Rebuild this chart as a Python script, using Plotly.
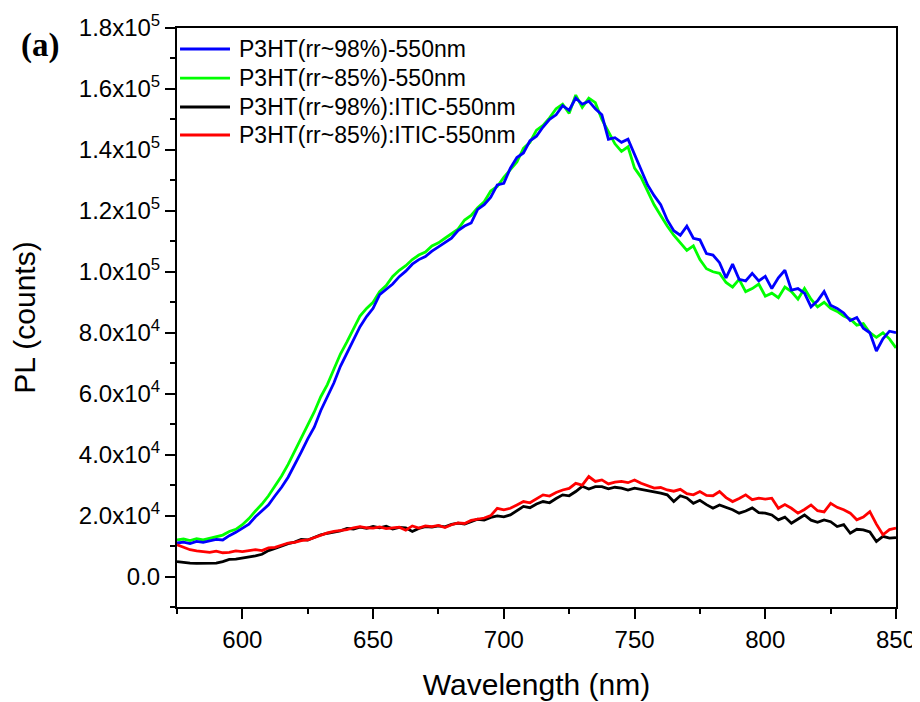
import numpy as np
import plotly.graph_objects as go

# Wavelength grid (nm)
wavelength = np.arange(575, 850.1, 2.5)

# PL counts in thousands
p3ht_98 = [11.0, 11.3, 10.8, 11.5, 11.2, 11.6, 12.2, 12.0, 13.4, 14.5,
           15.8, 17.2, 19.6, 21.5, 23.5, 26.5, 29.3, 32.6, 36.5, 40.8,
           45.2, 49.0, 54.5, 58.8, 63.5, 69.0, 73.2, 77.5, 82.0, 85.3,
           88.0, 92.5, 94.2, 96.0, 98.4, 100.2, 102.5, 104.0, 105.0, 106.8,
           108.2, 109.5, 111.0, 113.5, 115.0, 116.0, 120.5, 122.0, 124.5, 128.5,
           129.0, 134.0, 137.5, 139.0, 143.0, 144.5, 147.5, 150.0, 151.5, 154.5,
           153.0, 157.0, 155.0, 156.0, 153.5, 151.5, 143.5, 144.0, 142.5, 143.5,
           138.5, 134.0, 128.5, 125.0, 122.0, 117.0, 113.5, 112.0, 115.0, 111.0,
           110.5, 106.0, 105.5, 103.0, 98.0, 102.5, 97.5, 97.0, 99.5, 97.0,
           98.5, 94.5, 98.0, 100.5, 94.0, 94.5, 93.0, 88.5, 90.5, 93.5,
           89.0, 88.0, 86.5, 84.0, 85.0, 81.5, 80.0, 74.0, 78.0, 80.5,
           80.0]

p3ht_85 = [12.0, 12.3, 11.8, 12.4, 12.0, 12.5, 13.2, 13.6, 14.8, 15.5,
           17.0, 19.0, 21.5, 23.8, 26.5, 29.8, 33.0, 36.8, 41.0, 45.5,
           49.5, 54.0, 59.0, 63.0, 68.0, 73.0, 77.0, 81.0, 85.5, 88.0,
           90.0, 93.5, 95.5, 98.5, 100.5, 102.0, 104.0, 105.5, 106.5, 108.5,
           109.5, 111.0, 112.5, 114.0, 117.0, 118.5, 121.0, 123.0, 126.5, 128.0,
           131.0, 133.5, 136.0, 140.5, 142.5, 146.5, 148.0, 150.5, 153.5, 155.0,
           152.0, 158.0, 154.0, 157.0, 155.5, 150.0, 146.0, 142.0, 139.5, 141.0,
           134.0, 131.0, 126.5, 122.0, 118.5, 115.0, 112.0, 109.5, 107.0, 108.5,
           104.0, 101.0, 100.0, 99.5, 96.5, 95.0, 97.5, 93.5, 94.5, 96.0,
           92.0, 93.0, 91.5, 95.0, 93.5, 91.0, 94.5, 91.0, 88.5, 90.0,
           88.0, 87.0, 85.5, 84.5, 82.5, 83.0, 80.0, 78.5, 80.0, 78.0,
           75.0]

p3ht_98_itic = [4.9, 4.6, 4.4, 4.3, 4.4, 4.5, 4.4, 4.9, 5.6, 5.7,
                6.0, 6.5, 6.8, 7.3, 8.5, 9.2, 10.0, 10.8, 11.3, 12.2,
                12.0, 12.9, 13.7, 14.2, 14.6, 15.0, 15.8, 15.6, 16.2, 15.8,
                16.4, 16.0, 16.5, 15.6, 16.1, 16.0, 14.8, 15.8, 16.4, 16.2,
                16.6, 16.3, 17.1, 17.5, 17.2, 18.0, 18.8, 18.5, 19.4, 19.9,
                19.6, 20.2, 21.5, 23.0, 22.6, 23.8, 24.6, 24.2, 25.6, 26.8,
                26.5, 27.9, 29.6, 28.7, 29.5, 29.5, 28.8, 29.3, 29.0, 28.4,
                29.0, 28.6, 28.4, 27.8, 27.4, 26.8, 24.6, 26.5, 25.8, 24.0,
                25.0, 23.6, 22.4, 23.5, 22.8, 21.9, 20.8, 21.5, 22.5, 21.0,
                20.8, 20.2, 18.6, 19.5, 17.5, 18.8, 20.2, 18.5, 17.8, 18.6,
                18.0, 16.4, 17.0, 14.2, 15.5, 15.3, 14.6, 11.5, 13.2, 12.6,
                12.8]

p3ht_85_itic = [10.4, 9.6, 8.8, 8.4, 8.1, 7.9, 8.3, 7.8, 7.9, 8.4,
                8.2, 8.6, 8.8, 8.5, 9.4, 9.6, 10.2, 11.0, 11.2, 11.8,
                12.0, 12.8, 13.7, 14.3, 14.8, 15.0, 15.4, 16.0, 16.4, 16.0,
                15.9, 16.3, 15.7, 16.0, 16.2, 15.2, 16.6, 15.9, 16.6, 16.4,
                16.8, 16.1, 17.0, 17.6, 17.4, 18.4, 18.8, 19.2, 20.0, 22.4,
                21.9, 22.4, 23.5, 24.6, 24.2, 25.6, 26.8, 26.4, 27.6, 28.4,
                28.9, 30.6, 30.0, 32.8, 31.2, 31.7, 30.4, 31.0, 31.2, 30.8,
                31.7, 30.6, 29.8, 29.0, 29.2, 28.4, 28.0, 28.6, 27.2, 26.8,
                27.9, 26.6, 26.5, 27.9, 25.9, 24.6, 25.6, 26.8, 25.2, 25.7,
                25.4, 25.7, 22.4, 23.6, 22.4, 20.8, 22.0, 23.5, 21.6, 21.2,
                24.0, 22.7, 21.9, 20.8, 18.6, 19.5, 21.3, 17.2, 13.7, 15.4,
                15.9]

series_names = ["P3HT(rr~98%)-550nm", "P3HT(rr~85%)-550nm",
                "P3HT(rr~98%):ITIC-550nm", "P3HT(rr~85%):ITIC-550nm"]
series_colors = ["#0000FF", "#00FF00", "#000000", "#FF0000"]

x_tickvals = [600, 650, 700, 750, 800, 850]
y_tickvals = [0, 2e4, 4e4, 6e4, 8e4, 1e5, 1.2e5, 1.4e5, 1.6e5, 1.8e5]
y_ticktext = ["0.0", "2.0x10<sup>4</sup>", "4.0x10<sup>4</sup>", "6.0x10<sup>4</sup>",
              "8.0x10<sup>4</sup>", "1.0x10<sup>5</sup>", "1.2x10<sup>5</sup>",
              "1.4x10<sup>5</sup>", "1.6x10<sup>5</sup>", "1.8x10<sup>5</sup>"]

FONT = "Liberation Sans, Arial, sans-serif"

series_values = [p3ht_98, p3ht_85, p3ht_98_itic, p3ht_85_itic]
draw_order = [1, 0, 2, 3]  # green below blue, red above black

fig = go.Figure()
for i in draw_order:
    fig.add_trace(go.Scatter(
        x=wavelength, y=np.array(series_values[i]) * 1000.0,
        mode="lines", name=series_names[i], showlegend=False,
        line=dict(color=series_colors[i], width=2.8),
    ))

# In-plot legend (line samples + labels), top-left as in the original figure
leg_x0, leg_x1, leg_tx = 0.0042, 0.0737, 0.0834
leg_rows = [0.9637, 0.9136, 0.8636, 0.8152]
for name, color, yy in zip(series_names, series_colors, leg_rows):
    fig.add_shape(type="line", xref="paper", yref="paper",
                  x0=leg_x0, x1=leg_x1, y0=yy, y1=yy,
                  line=dict(color=color, width=2.8))
    fig.add_annotation(text=name, xref="paper", yref="paper", x=leg_tx, y=yy,
                       xanchor="left", yanchor="middle", showarrow=False,
                       font=dict(family=FONT, size=23, color="black"))

axis_common = dict(
    showline=True, linecolor="black", linewidth=2, mirror=True,
    ticks="outside", ticklen=10, tickwidth=2, tickcolor="black",
    showgrid=False, zeroline=False, automargin=False,
    tickfont=dict(family=FONT, size=24, color="black"),
)

fig.update_xaxes(
    range=[575, 850], tickvals=x_tickvals,
    minor=dict(ticks="outside", ticklen=5, tickwidth=2, tickcolor="black", dtick=25, tick0=575),
    title=dict(text="Wavelength (nm)", font=dict(family=FONT, size=30, color="black"), standoff=22),
    **axis_common,
)
fig.update_yaxes(
    range=[-1e4, 1.8e5], tickvals=y_tickvals, ticktext=y_ticktext,
    minor=dict(ticks="outside", ticklen=5, tickwidth=2, tickcolor="black", dtick=1e4, tick0=0),
    title=dict(text="PL (counts)", font=dict(family=FONT, size=30, color="black"), standoff=37),
    **axis_common,
)

fig.add_annotation(
    text="<b>(a)</b>", xref="paper", yref="paper", x=-0.1905, y=0.9706,
    xanchor="center", yanchor="middle", showarrow=False,
    font=dict(family="Liberation Serif, Times New Roman, serif", size=33, color="black"),
)

# The page places the figure 8 px in from the top-left corner, so the figure
# is sized to fit the 920x702 window.
fig.update_layout(
    width=912, height=694,
    margin=dict(l=169, r=24, t=20, b=95),
    paper_bgcolor="white", plot_bgcolor="white",
    showlegend=False,
)

fig.write_html("out.html")
